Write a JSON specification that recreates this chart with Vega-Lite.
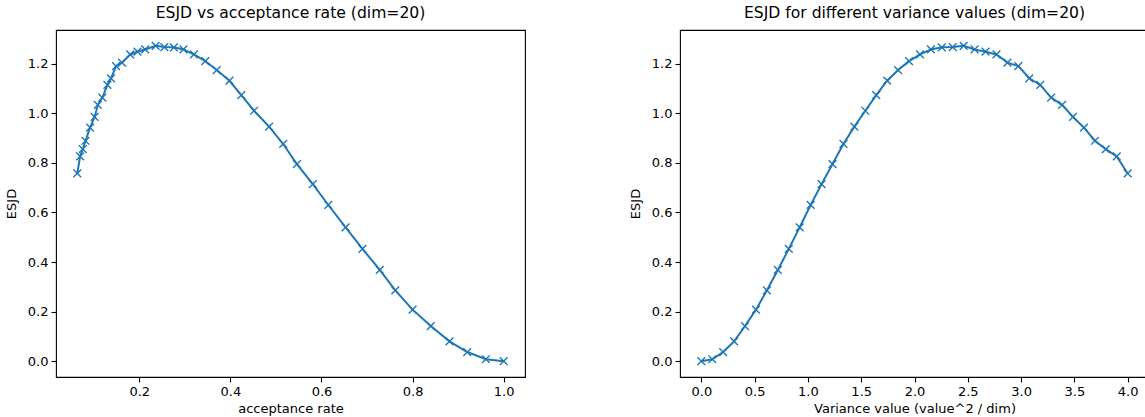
{
  "$schema": "https://vega.github.io/schema/vega-lite/v6.json",
  "background": "white",
  "padding": {"left": 4, "top": 5, "right": 0, "bottom": 0},
  "config": {
    "font": "DejaVu Sans",
    "view": {"stroke": "#000000", "strokeWidth": 1.1},
    "axis": {"domain": false, "grid": false, "tickColor": "#000000", "tickSize": 5, "tickWidth": 1.1, "labelFontSize": 13, "labelColor": "#000000", "titleFontSize": 13, "titleFontWeight": "normal", "titleColor": "#000000", "labelPadding": 3},
    "axisX": {"titlePadding": 4},
    "axisY": {"titlePadding": 9},
    "title": {"fontSize": 15.6, "fontWeight": "normal", "color": "#000000", "offset": 8},
    "concat": {"spacing": 102}
  },
  "datasets": {
    "esjd": [
      {"acc": 1.000, "var": 0.0, "esjd": 0.000},
      {"acc": 0.961, "var": 0.1026, "esjd": 0.008},
      {"acc": 0.920, "var": 0.2051, "esjd": 0.037},
      {"acc": 0.881, "var": 0.3077, "esjd": 0.080},
      {"acc": 0.840, "var": 0.4103, "esjd": 0.142},
      {"acc": 0.800, "var": 0.5128, "esjd": 0.208},
      {"acc": 0.762, "var": 0.6154, "esjd": 0.286},
      {"acc": 0.728, "var": 0.7179, "esjd": 0.368},
      {"acc": 0.690, "var": 0.8205, "esjd": 0.453},
      {"acc": 0.653, "var": 0.9231, "esjd": 0.540},
      {"acc": 0.615, "var": 1.0256, "esjd": 0.630},
      {"acc": 0.581, "var": 1.1282, "esjd": 0.714},
      {"acc": 0.546, "var": 1.2308, "esjd": 0.795},
      {"acc": 0.516, "var": 1.3333, "esjd": 0.876},
      {"acc": 0.485, "var": 1.4359, "esjd": 0.946},
      {"acc": 0.452, "var": 1.5385, "esjd": 1.010},
      {"acc": 0.424, "var": 1.6410, "esjd": 1.073},
      {"acc": 0.398, "var": 1.7436, "esjd": 1.131},
      {"acc": 0.370, "var": 1.8462, "esjd": 1.174},
      {"acc": 0.345, "var": 1.9487, "esjd": 1.210},
      {"acc": 0.320, "var": 2.0513, "esjd": 1.237},
      {"acc": 0.297, "var": 2.1538, "esjd": 1.257},
      {"acc": 0.276, "var": 2.2564, "esjd": 1.266},
      {"acc": 0.255, "var": 2.3590, "esjd": 1.267},
      {"acc": 0.236, "var": 2.4615, "esjd": 1.272},
      {"acc": 0.213, "var": 2.5641, "esjd": 1.257},
      {"acc": 0.196, "var": 2.6667, "esjd": 1.248},
      {"acc": 0.180, "var": 2.7692, "esjd": 1.237},
      {"acc": 0.162, "var": 2.8718, "esjd": 1.204},
      {"acc": 0.149, "var": 2.9744, "esjd": 1.190},
      {"acc": 0.138, "var": 3.0769, "esjd": 1.141},
      {"acc": 0.130, "var": 3.1795, "esjd": 1.114},
      {"acc": 0.119, "var": 3.2821, "esjd": 1.063},
      {"acc": 0.109, "var": 3.3846, "esjd": 1.034},
      {"acc": 0.102, "var": 3.4872, "esjd": 0.985},
      {"acc": 0.092, "var": 3.5897, "esjd": 0.942},
      {"acc": 0.082, "var": 3.6923, "esjd": 0.889},
      {"acc": 0.076, "var": 3.7949, "esjd": 0.855},
      {"acc": 0.070, "var": 3.8974, "esjd": 0.826},
      {"acc": 0.064, "var": 4.0, "esjd": 0.757}
    ]
  },
  "hconcat": [
    {
      "width": 469,
      "height": 347,
      "title": "ESJD vs acceptance rate (dim=20)",
      "data": {"name": "esjd"},
      "encoding": {
        "x": {"field": "acc", "type": "quantitative", "scale": {"domain": [0.0172, 1.0468], "nice": false, "zero": false}, "axis": {"values": [0.2, 0.4, 0.6, 0.8, 1.0], "format": ".1f", "title": "acceptance rate"}},
        "y": {"field": "esjd", "type": "quantitative", "scale": {"domain": [-0.0636, 1.3356], "nice": false, "zero": false}, "axis": {"values": [0, 0.2, 0.4, 0.6, 0.8, 1.0, 1.2], "format": ".1f", "title": "ESJD"}}
      },
      "layer": [
        {"mark": {"type": "line", "color": "#1f77b4", "strokeWidth": 2}},
        {"mark": {"type": "point", "shape": "M-1,-1L1,1M1,-1L-1,1", "filled": false, "color": "#1f77b4", "strokeWidth": 1.4, "size": 60, "opacity": 1}}
      ]
    },
    {
      "width": 469,
      "height": 347,
      "title": "ESJD for different variance values (dim=20)",
      "data": {"name": "esjd"},
      "encoding": {
        "x": {"field": "var", "type": "quantitative", "scale": {"domain": [-0.2, 4.2], "nice": false, "zero": false}, "axis": {"values": [0, 0.5, 1.0, 1.5, 2.0, 2.5, 3.0, 3.5, 4.0], "format": ".1f", "title": "Variance value (value^2 / dim)"}},
        "y": {"field": "esjd", "type": "quantitative", "scale": {"domain": [-0.0636, 1.3356], "nice": false, "zero": false}, "axis": {"values": [0, 0.2, 0.4, 0.6, 0.8, 1.0, 1.2], "format": ".1f", "title": "ESJD"}}
      },
      "layer": [
        {"mark": {"type": "line", "color": "#1f77b4", "strokeWidth": 2}},
        {"mark": {"type": "point", "shape": "M-1,-1L1,1M1,-1L-1,1", "filled": false, "color": "#1f77b4", "strokeWidth": 1.4, "size": 60, "opacity": 1}}
      ]
    }
  ]
}
